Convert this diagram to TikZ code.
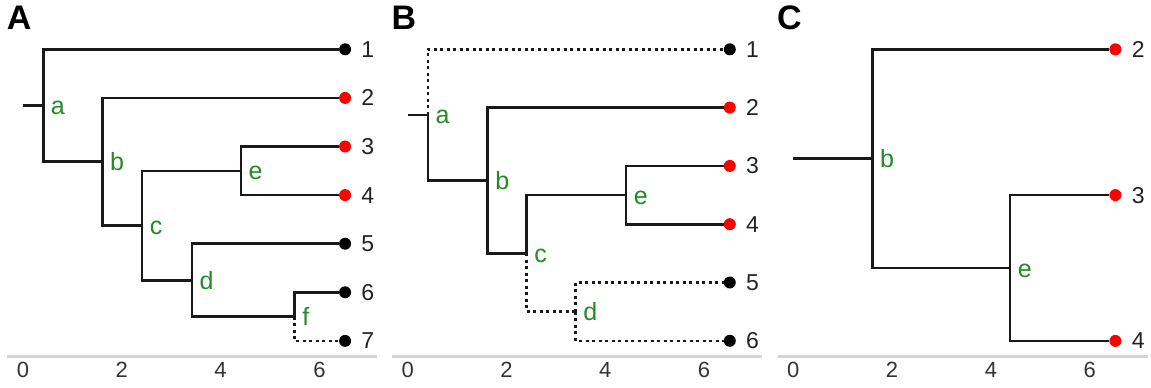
\documentclass[tikz,border=0pt]{standalone}
\usepackage{fontspec}
\setmainfont{Liberation Sans}
\definecolor{treegreen}{RGB}{34,139,34}
\definecolor{tipgray}{RGB}{34,34,34}
\tikzset{
  branch/.style={line width=2.6pt, black!90},
  lost/.style={branch, dash pattern=on 3pt off 3.5pt},
  tipdot/.style={circle, fill=black, inner sep=0pt, minimum size=12pt},
  tiplab/.style={font=\fontsize{23}{23}\selectfont, text=tipgray, inner sep=0pt, xshift=10pt},
  nodelab/.style={font=\fontsize{25}{25}\selectfont, text=treegreen, inner sep=0pt, anchor=base west, xshift=7.5pt, yshift=-9pt},
  ticklab/.style={font=\fontsize{22}{22}\selectfont, text=black!80, inner sep=0pt},
  axisline/.style={line width=3pt, black!17},
  panel/.style={font=\fontsize{34}{34}\selectfont\bfseries, inner sep=0pt, anchor=base west}
}
\begin{document}
\begin{tikzpicture}[x=1pt, y=-1pt]
\useasboundingbox (0,0) rectangle (1151,388);
% A
\begin{scope}[shift={(23,0)}, x=49.4pt]
\node[panel] (pA) at (-0.33,29) {A};
\draw[axisline] (-0.32,356) -- (7.17,356);
\foreach \t in {0,2,4,6} \node[ticklab] (At\t) at (\t,370) {\t};
\foreach \i/\y/\c in {1/49.3/black, 2/97.9/red, 3/146.5/red, 4/195.1/red, 5/243.7/black, 6/292.3/black, 7/340.9/black}
  \node[tipdot, fill=\c, label={[tiplab]right:\i}] (A\i) at (6.52,\y) {};
\coordinate (Ar) at (0,105.5);
\coordinate (Aa) at (0.41,105.5);
\coordinate (Ab) at (1.61,161.7);
\coordinate (Ac) at (2.41,225.5);
\coordinate (Ad) at (3.42,280.2);
\coordinate (Ae) at (4.41,170.8);
\coordinate (Af) at (5.5,316.6);
\foreach \n in {a,b,c,d,e,f} \node[nodelab] (Al\n) at (A\n) {\n};
\draw[branch] (Ar) -- (Aa) (Aa) |- (A1) (Aa) |- (Ab) (Ab) |- (A2) (Ab) |- (Ac)
  (Ac) |- (Ae) (Ac) |- (Ad) (Ae) |- (A3) (Ae) |- (A4) (Ad) |- (A5) (Ad) |- (Af) (Af) |- (A6);
\draw[lost] (Af) |- (A7);
\end{scope}
% B
\begin{scope}[shift={(407.7,0)}, x=49.4pt]
\node[panel] (pB) at (-0.33,29) {B};
\draw[axisline] (-0.32,356) -- (7.17,356);
\foreach \t in {0,2,4,6} \node[ticklab] (Bt\t) at (\t,370) {\t};
\foreach \i/\y/\c in {1/49.3/black, 2/107.6/red, 3/165.9/red, 4/224.2/red, 5/282.5/black, 6/340.8/black}
  \node[tipdot, fill=\c, label={[tiplab]right:\i}] (B\i) at (6.52,\y) {};
\coordinate (Br) at (0,114.9);
\coordinate (Ba) at (0.41,114.9);
\coordinate (Bb) at (1.62,180.5);
\coordinate (Bc) at (2.41,253.4);
\coordinate (Bd) at (3.4,311.7);
\coordinate (Be) at (4.42,195.1);
\foreach \n in {a,b,c,d,e} \node[nodelab] (Bl\n) at (B\n) {\n};
\draw[branch] (Br) -- (Ba) (Ba) |- (Bb) (Bb) |- (B2) (Bb) |- (Bc)
  (Bc) |- (Be) (Be) |- (B3) (Be) |- (B4);
\draw[lost] (Ba) |- (B1) (Bc) |- (Bd) (Bd) |- (B5) (Bd) |- (B6);
\end{scope}
% C
\begin{scope}[shift={(793.3,0)}, x=49.4pt]
\node[panel] (pC) at (-0.33,29) {C};
\draw[axisline] (-0.32,356) -- (7.17,356);
\foreach \t in {0,2,4,6} \node[ticklab] (Ct\t) at (\t,370) {\t};
\foreach \i/\y in {2/49.3, 3/195.1, 4/340.9}
  \node[tipdot, fill=red, label={[tiplab]right:\i}] (C\i) at (6.52,\y) {};
\coordinate (Cr) at (0,158.7);
\coordinate (Cb) at (1.6,158.7);
\coordinate (Ce) at (4.39,268);
\foreach \n in {b,e} \node[nodelab] (Cl\n) at (C\n) {\n};
\draw[branch] (Cr) -- (Cb) (Cb) |- (C2) (Cb) |- (Ce) (Ce) |- (C3) (Ce) |- (C4);
\end{scope}
\end{tikzpicture}
\end{document}
